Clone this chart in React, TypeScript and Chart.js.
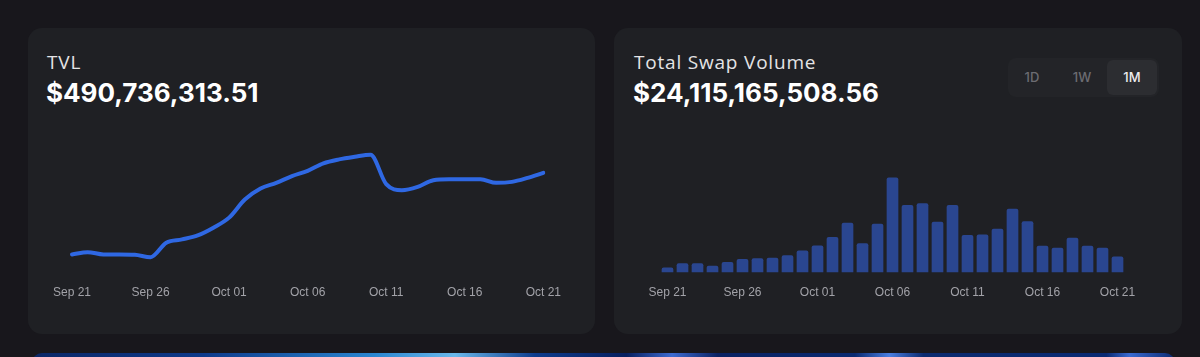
import React, { useEffect, useRef } from 'react';
import { Chart, registerables } from 'chart.js';

Chart.register(...registerables);

const dateLabels = [
  'Sep 21', 'Sep 22', 'Sep 23', 'Sep 24', 'Sep 25', 'Sep 26', 'Sep 27', 'Sep 28', 'Sep 29', 'Sep 30',
  'Oct 01', 'Oct 02', 'Oct 03', 'Oct 04', 'Oct 05', 'Oct 06', 'Oct 07', 'Oct 08', 'Oct 09', 'Oct 10',
  'Oct 11', 'Oct 12', 'Oct 13', 'Oct 14', 'Oct 15', 'Oct 16', 'Oct 17', 'Oct 18', 'Oct 19', 'Oct 20',
  'Oct 21',
];

// TVL in millions USD
const tvlValues = [
  328.1, 332.7, 328.1, 328.1, 327.5, 322.7, 351.5, 358.1, 366.1, 381.5,
  401.5, 437.5, 459.5, 470.7, 484.1, 494.7, 509.5, 517.5, 522.7, 526.7,
  468.1, 456.1, 462.7, 476.1, 478.1, 478.1, 478.1, 470.7, 472.7, 480.7,
  490.7,
];

// Daily swap volume in millions USD
const volumeValues = [
  115, 215, 215, 155, 245, 310, 330, 340, 400, 505,
  620, 815, 1145, 675, 1120, 2180, 1550, 1590, 1165, 1550,
  865, 875, 1005, 1465, 1175, 615, 570, 800, 615, 570,
  370,
];

const rangeButtons = ['1D', '1W', '1M'];
const activeRange = '1M';

const tvlTitle = 'TVL';
const tvlTotal = '$490,736,313.51';
const volTitle = 'Total Swap Volume';
const volTotal = '$24,115,165,508.56';

const tickFont = { family: "'Liberation Sans', Arial, Helvetica, sans-serif", size: 12 };
const tickColor = '#a2a2a8';

function xAxis(offset: boolean) {
  return {
    offset,
    grid: { display: false, drawTicks: false, tickLength: 0 },
    border: { display: false },
    ticks: {
      autoSkip: false,
      maxRotation: 0,
      minRotation: 0,
      padding: 13,
      color: tickColor,
      font: tickFont,
      callback: (_v: any, i: number) => (i % 5 === 0 ? dateLabels[i] : ''),
    },
  };
}

function TvlChart() {
  const ref = useRef<HTMLCanvasElement | null>(null);
  useEffect(() => {
    if (!ref.current) return;
    const chart = new Chart(ref.current, {
      type: 'line',
      data: {
        labels: dateLabels,
        datasets: [
          {
            data: tvlValues,
            borderColor: '#2f68e3',
            borderWidth: 4,
            pointRadius: 0,
            tension: 0.4,
            cubicInterpolationMode: 'monotone',
            borderCapStyle: 'round',
            borderJoinStyle: 'round',
            fill: false,
          },
        ],
      },
      options: {
        animation: false,
        responsive: false,
        devicePixelRatio: 1,
        layout: { padding: { left: 30, right: 30, top: 0, bottom: 0 } },
        plugins: { legend: { display: false }, tooltip: { enabled: false } },
        scales: {
          x: xAxis(false) as any,
          y: { display: false, min: 292, max: 576 },
        },
      },
    });
    return () => chart.destroy();
  }, []);
  return (
    <canvas
      ref={ref}
      width={534}
      height={183}
      style={{ position: 'absolute', left: 40, top: 130, width: 534, height: 183 }}
    />
  );
}

function VolumeChart() {
  const ref = useRef<HTMLCanvasElement | null>(null);
  useEffect(() => {
    if (!ref.current) return;
    const chart = new Chart(ref.current, {
      type: 'bar',
      data: {
        labels: dateLabels,
        datasets: [
          {
            data: volumeValues,
            backgroundColor: '#2a4690',
            barPercentage: 0.78,
            categoryPercentage: 1,
            borderRadius: { topLeft: 2, topRight: 2, bottomLeft: 0, bottomRight: 0 },
            borderSkipped: false,
          },
        ],
      },
      options: {
        animation: false,
        responsive: false,
        devicePixelRatio: 1,
        layout: { padding: { left: 30, right: 30, top: 0, bottom: 0 } },
        plugins: { legend: { display: false }, tooltip: { enabled: false } },
        scales: {
          x: xAxis(true) as any,
          y: { display: false, min: 0, max: 3270 },
        },
      },
    });
    return () => chart.destroy();
  }, []);
  return (
    <canvas
      ref={ref}
      width={525}
      height={183}
      style={{ position: 'absolute', left: 630, top: 130, width: 525, height: 183 }}
    />
  );
}

const titleStyle: React.CSSProperties = {
  position: 'absolute',
  fontFamily: "'Open Sans', 'Noto Sans', sans-serif",
  fontWeight: 400,
  fontSize: 19,
  letterSpacing: '0.8px',
  color: '#e4e4e6',
  lineHeight: '20px',
  whiteSpace: 'nowrap',
};

const valueStyle: React.CSSProperties = {
  position: 'absolute',
  fontFamily: "Inter, Roboto, 'Noto Sans', sans-serif",
  fontWeight: 700,
  fontSize: 26,
  color: '#ffffff',
  lineHeight: '30px',
  whiteSpace: 'nowrap',
};

const cardStyle: React.CSSProperties = {
  position: 'absolute',
  top: 28,
  width: 567,
  height: 306,
  background: '#1f2024',
  borderRadius: 14,
};

export default function App() {
  return (
    <div
      style={{
        position: 'fixed',
        left: 0,
        top: 0,
        width: 1200,
        height: 357,
        background: '#18171c',
        overflow: 'hidden',
      }}
    >
      <div style={{ ...cardStyle, left: 28 }} />
      <div style={{ ...cardStyle, left: 614, width: 568 }} />

      <div style={{ ...titleStyle, left: 47, top: 52 }}>{tvlTitle}</div>
      <div style={{ ...valueStyle, left: 46, top: 78 }}>{tvlTotal}</div>

      <div style={{ ...titleStyle, left: 634, top: 52 }}>{volTitle}</div>
      <div style={{ ...valueStyle, left: 633, top: 78 }}>{volTotal}</div>

      <div
        style={{
          position: 'absolute',
          left: 1008,
          top: 58,
          width: 151,
          height: 39,
          background: '#232428',
          borderRadius: 8,
        }}
      />
      {rangeButtons.map((b, i) => {
        const active = b === activeRange;
        return (
          <div
            key={b}
            style={{
              position: 'absolute',
              left: 1007 + i * 50,
              top: 60,
              width: 50,
              height: 35,
              borderRadius: 6,
              background: active ? '#2c2d31' : 'transparent',
              color: active ? '#ececee' : '#6c6c72',
              fontFamily: "Inter, 'Noto Sans', sans-serif",
              fontWeight: 500,
              fontSize: 13,
              lineHeight: '35px',
              textAlign: 'center',
            }}
          >
            {b}
          </div>
        );
      })}

      <TvlChart />
      <VolumeChart />

      <div
        style={{
          position: 'absolute',
          left: 32,
          top: 353,
          width: 1143,
          height: 12,
          borderRadius: '10px 10px 0 0',
          background:
            'linear-gradient(90deg, #0b2766 0%, #0e3a8a 15%, #2a86d0 30%, #6ab8ea 37%, #0e3c8c 44%, #071f5e 52%, #3e6bd0 56%, #0a2262 60%, #0a2a70 72%, #4a7ee0 75%, #0b2a6e 78%, #0a2a72 94%, #3a6ad0 96%, #0b2a70 100%)',
        }}
      />
    </div>
  );
}
